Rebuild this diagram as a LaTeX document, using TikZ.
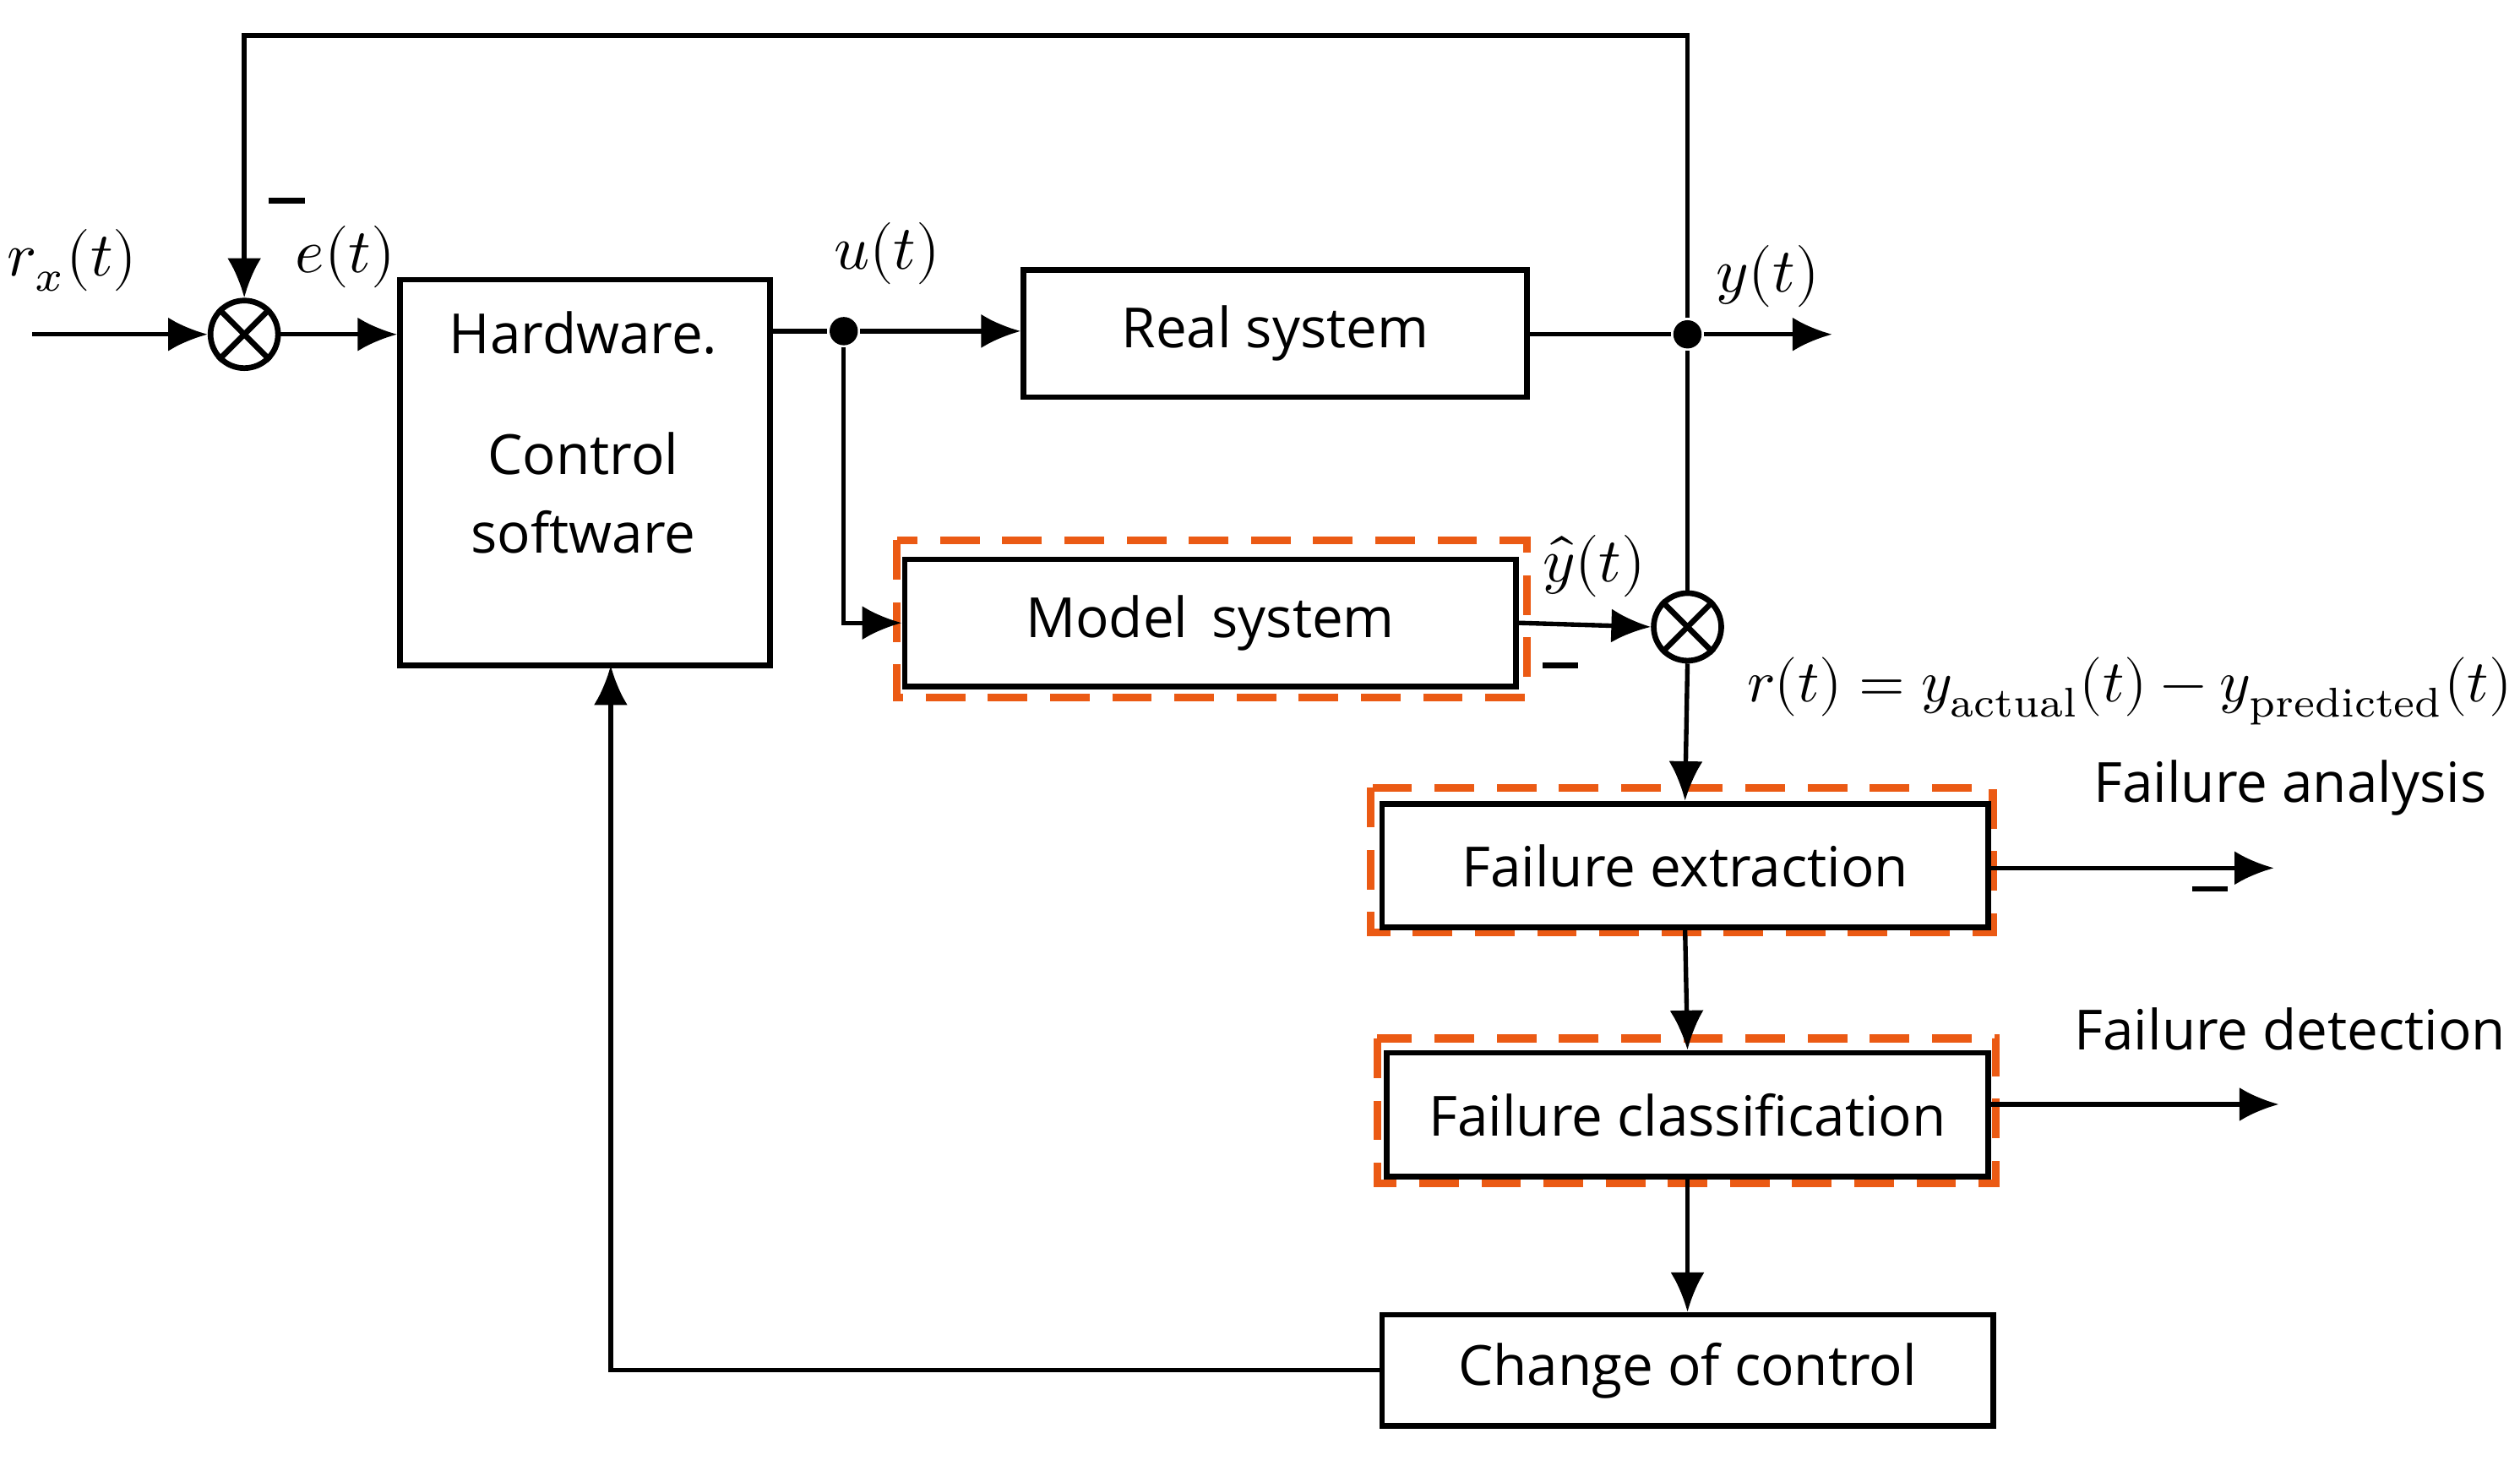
\documentclass[tikz,border=0pt]{standalone}
\usepackage{fontspec}
\setmainfont{Open Sans}
\usepackage{unicode-math}
\setmathfont{Latin Modern Math}
\setmathrm{Latin Modern Roman}
\usetikzlibrary{arrows.meta}
\begin{document}
\begin{tikzpicture}[x=0.01cm,y=-0.01cm,
  line width=0.8pt, >={Latex[length=7pt,width=6pt]},
  txt/.style={font=\fontsize{9.8}{12}\selectfont},
  blk/.style={draw,line width=1pt,inner sep=0,txt},
  ofr/.style={draw={rgb,255:red,235;green,90;blue,20},line width=1.4pt,dash pattern=on 7pt off 4pt},
  sum/.style={draw,circle,minimum size=0.42cm,inner sep=0,line width=1pt},
  lab/.style={font=\fontsize{11}{13}\selectfont},
  dot/.style={circle,fill,inner sep=0,minimum size=5pt}]
\useasboundingbox (0,0) rectangle (1568,912);
% dashed frames
\draw[ofr] (558,336) rectangle (950,434);
\draw[ofr] (853,490) rectangle (1240,580);
\draw[ofr] (857,646) rectangle (1242,736);
% blocks
\node[blk,minimum width=2.30cm,minimum height=2.40cm] (hw) at (364,294) {};
\node[txt] (hwt1) at (363,207) {Hardware.};
\node[txt] (hwt2) at (363,282) {Control};
\node[txt] (hwt3) at (363,331) {software};
\node[blk,minimum width=3.13cm,minimum height=0.79cm] (rs) at (793.5,207.5) {Real system};
\node[blk,minimum width=3.80cm,minimum height=0.79cm] (ms) at (753,387.5) {Model\, system};
\node[blk,minimum width=3.77cm,minimum height=0.77cm] (fe) at (1048.5,538.5) {Failure extraction};
\node[blk,minimum width=3.74cm,minimum height=0.77cm] (fc) at (1050,693.5) {Failure classification};
\node[blk,minimum width=3.80cm,minimum height=0.69cm] (cc) at (1050,852.5) {Change of control};
% junctions
\node[sum] (s1) at (152,208) {};
\draw[line width=1pt] (s1.north west)--(s1.south east) (s1.north east)--(s1.south west);
\node[sum] (s2) at (1050,390) {};
\draw[line width=1pt] (s2.north west)--(s2.south east) (s2.north east)--(s2.south west);
\node[dot] (d1) at (525,206) {};
\node[dot] (d2) at (1050,208) {};
\coordinate (in) at (20,208);
\coordinate (out) at (1140,208);
\coordinate (top1) at (1050,22);
\coordinate (top2) at (152,22);
\coordinate (fa) at (1415,540);
\coordinate (fd) at (1418,687);
\coordinate (hwb) at (380,414);
% connectors
\draw[->] (in) -- (s1.west);
\draw[->] (s1.east) -- (hw.west |- s1.east);
\draw (hw.east |- d1) -- (d1);
\draw[->] (d1) -- (rs.west |- d1);
\draw (rs.east |- d2) -- (d2);
\draw[->] (d2) -- (out);
\draw[->] (d2) -- (top1) -- (top2) -- (s1.north);
\draw[->] (d1) |- (ms.west);
\draw[->] (ms.east) -- (s2.west);
\draw (d2) -- (s2.north);
\draw[->] (s2.south) -- (fe.north);
\draw[->] (fe.east |- fa) -- (fa);
\draw[->] (fe.south) -- (fc.north);
\draw[->] (fc.east |- fd) -- (fd);
\draw[->] (fc.south) -- (cc.north);
\draw[->] (cc.west) -| (hwb);
% labels
\node[lab] (l1) at (45,162) {$r_x(t)$};
\node[lab] (l2) at (215,160) {$e(t)$};
\node[lab] (l3) at (552,158) {$u(t)$};
\node[lab] (l4) at (1100,172) {$y(t)$};
\node[lab] (l5) at (992,352) {$\hat{y}(t)$};
\node[font=\fontsize{10.5}{13}\selectfont] (l6) at (1325,430) {$r(t)=y_{\mathrm{actual}}(t)-y_{\mathrm{predicted}}(t)$};
\node[txt] (l7) at (1425,490) {Failure analysis};
\node[txt] (l8) at (1425,640) {Failure detection};
\draw[line width=1pt] (167,125) -- (190,125);
\draw[line width=1pt] (960,414) -- (982,414);
\draw[line width=1pt] (1364,553) -- (1386,553);
\end{tikzpicture}
\end{document}
